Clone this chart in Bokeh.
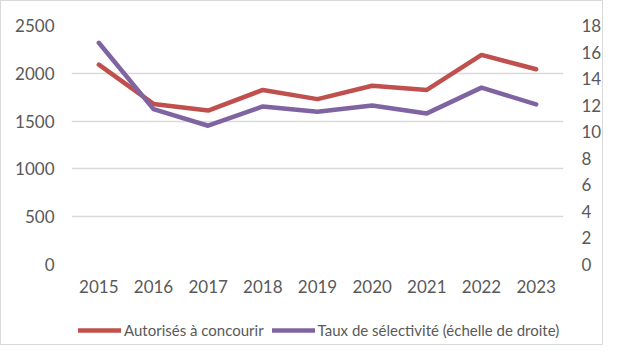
from bokeh.plotting import figure
from bokeh.models import Range1d, LinearAxis, FactorRange, Legend, LegendItem, FixedTicker
from bokeh.layouts import column
from bokeh.embed import file_html
from bokeh.resources import INLINE

years = ["2015", "2016", "2017", "2018", "2019", "2020", "2021", "2022", "2023"]
autorises = [2090, 1680, 1610, 1826, 1730, 1870, 1826, 2192, 2042]
taux = [16.7, 11.7, 10.45, 11.9, 11.5, 11.97, 11.38, 13.32, 12.06]
left_ticks = [0, 500, 1000, 1500, 2000, 2500]
right_ticks = [0, 2, 4, 6, 8, 10, 12, 14, 16, 18]
labels = ["Autorisés à concourir", "Taux de sélectivité (échelle de droite)"]

RED = "#C0504D"
PURPLE = "#8064A2"
TXT = "#595959"
FONT = "Lato"
BORDER = "1px solid #d9d9d9"

p = figure(width=603, height=305, x_range=FactorRange(*years, range_padding=0),
           y_range=Range1d(0, 2500), output_backend="svg", toolbar_location=None,
           min_border_left=70, min_border_right=35, min_border_top=24, min_border_bottom=42)
p.extra_y_ranges = {"right": Range1d(0, 18)}
p.outline_line_color = None
p.styles = {"border-left": BORDER, "border-top": BORDER, "border-right": BORDER,
            "box-sizing": "border-box"}

p.line(years, autorises, line_color=RED, line_width=4.5, line_cap="round", line_join="round")
p.line(years, taux, line_color=PURPLE, line_width=4.5, line_cap="round", line_join="round",
       y_range_name="right")

raxis = LinearAxis(y_range_name="right", ticker=FixedTicker(ticks=right_ticks))
p.add_layout(raxis, "right")
p.yaxis[0].ticker = FixedTicker(ticks=left_ticks)

for ax in p.axis:
    ax.axis_line_color = None
    ax.major_tick_line_color = None
    ax.minor_tick_line_color = None
    ax.major_tick_out = 0
    ax.major_tick_in = 0
    ax.major_label_text_font = FONT
    ax.major_label_text_font_size = "17px"
    ax.major_label_text_color = TXT
p.xaxis.major_label_standoff = 15
p.yaxis[0].major_label_standoff = 17
raxis.major_label_standoff = 18

p.xgrid.grid_line_color = None
p.ygrid.grid_line_color = "#d9d9d9"
p.ygrid.grid_line_width = 1.5

# legend strip (same borders as the chart so the frames line up)
q = figure(width=603, height=40, x_range=FactorRange(*years, range_padding=0),
           y_range=Range1d(0, 1), output_backend="svg", toolbar_location=None,
           x_axis_type=None, y_axis_type=None,
           min_border_left=70, min_border_right=35, min_border_top=0, min_border_bottom=0)
q.outline_line_color = None
q.xgrid.visible = False
q.ygrid.visible = False
q.styles = {"border-left": BORDER, "border-bottom": BORDER, "border-right": BORDER,
            "box-sizing": "border-box"}
# same series, far outside this strip's y range, so only their legend glyphs show
d1 = q.line(years, autorises, line_color=RED, line_width=4.5, line_cap="round")
d2 = q.line(years, taux, line_color=PURPLE, line_width=4.5, line_cap="round")

legend = Legend(items=[LegendItem(label=labels[0], renderers=[d1]),
                       LegendItem(label=labels[1], renderers=[d2])],
                location=(7, 5), orientation="horizontal", border_line_color=None,
                background_fill_alpha=0, padding=0, margin=0, spacing=8,
                glyph_width=43, glyph_height=20, label_height=20, label_standoff=3,
                label_text_font=FONT, label_text_font_size="15px", label_text_color=TXT)
q.add_layout(legend, "center")

open("out.html", "w").write(file_html(column(p, q, spacing=0), INLINE))
